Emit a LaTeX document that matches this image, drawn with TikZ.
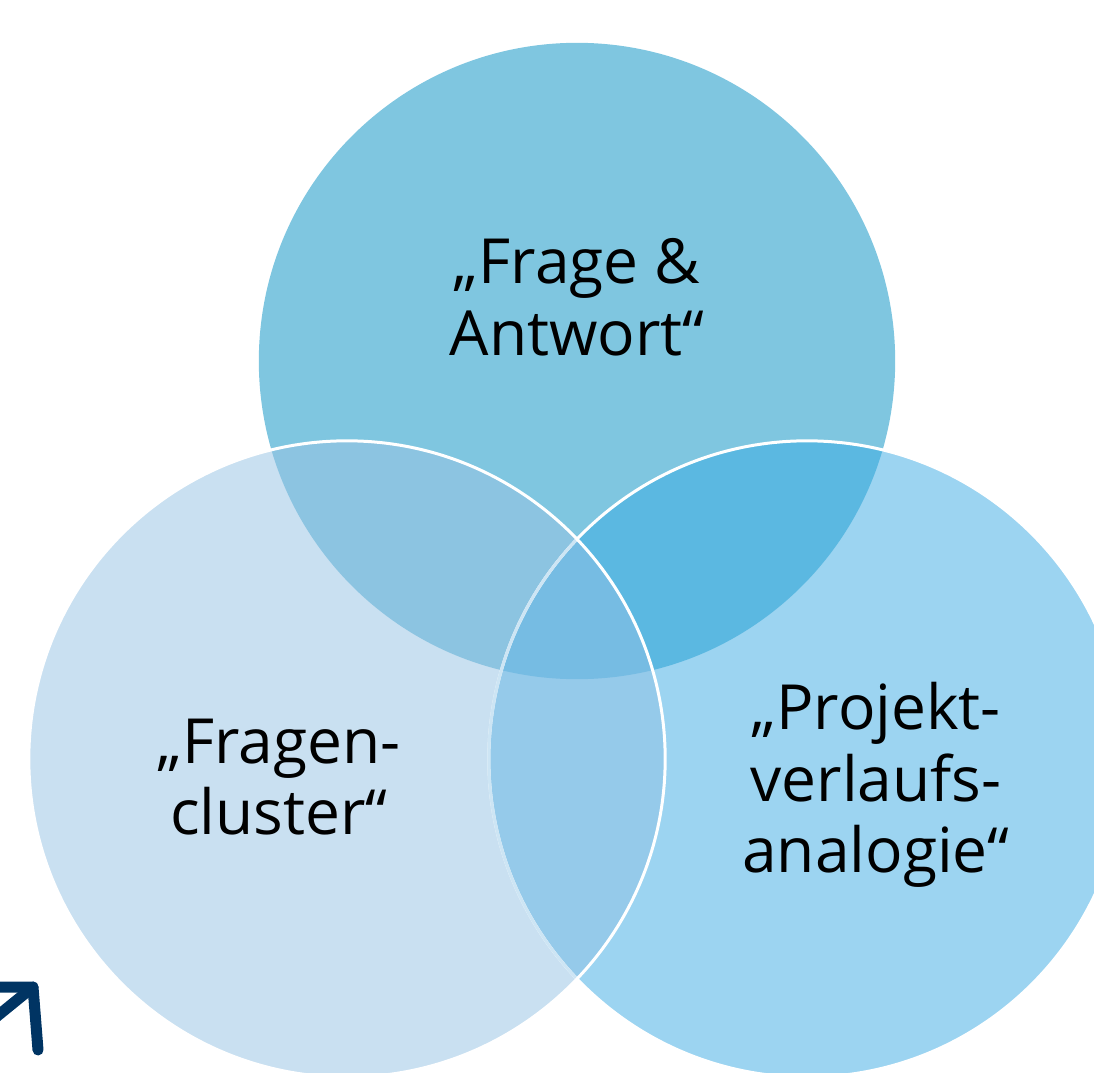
\documentclass[tikz,border=0pt]{standalone}
\usepackage{fontspec}
\setmainfont{Open Sans}
\usepackage{tikz}
\usetikzlibrary{positioning}

\definecolor{topblue}{HTML}{7FC6E0}
\definecolor{leftblue}{HTML}{C9E0F1}
\definecolor{rightblue}{HTML}{9CD4F1}
\definecolor{topleft}{HTML}{8CC4E1}
\definecolor{topright}{HTML}{5BB8E1}
\definecolor{leftright}{HTML}{95CAEA}
\definecolor{allthree}{HTML}{76BCE3}
\definecolor{fadeline}{HTML}{CDE5F4}
\definecolor{navy}{HTML}{003463}

\tikzset{
  lbl/.style={align=center, inner sep=0pt, text=black,
    font=\fontsize{17.7}{20.4}\selectfont},
  rim/.style={white, line width=0.03cm}
}

\begin{document}
\begin{tikzpicture}[x=0.01cm, y=-0.01cm]
   \useasboundingbox (0,0) rectangle (1094,1073);
   \def\rad{3.18cm}

   \coordinate (ctop)   at (577,361);
   \coordinate (cleft)  at (347,759);
   \coordinate (cright) at (807,759);

   \fill[topblue]   (ctop)   circle (\rad);
   \fill[rightblue] (cright) circle (\rad);
   \fill[leftblue]  (cleft)  circle (\rad);

   \begin{scope}
      \clip (ctop) circle (\rad);
      \fill[topleft]  (cleft)  circle (\rad);
      \fill[topright] (cright) circle (\rad);
   \end{scope}
   \begin{scope}
      \clip (cleft) circle (\rad);
      \fill[leftright] (cright) circle (\rad);
      \clip (cright) circle (\rad);
      \fill[allthree] (ctop) circle (\rad);
   \end{scope}

   \draw[rim] (cright) circle (\rad);
   \begin{scope}
      \clip (cleft) circle (\rad);
      \draw[rim, fadeline] (cright) circle (\rad);
   \end{scope}
   \draw[rim] (cleft) circle (\rad);

   \node (qa)      [lbl] at (577,297) {„Frage \&\\Antwort“};
   \node (cluster) [lbl] at (279,777) {„Fragen-\\cluster“};
   \node (verlauf) [lbl] at (876,785) {„Projekt-\\verlaufs-\\analogie“};

   \coordinate (tip) at (33,987);
   \draw[navy, line width=0.11cm, line cap=round, line join=round]
      (-10,987) -- (tip) -- (35,1012) -- (38,1050);
   \draw[navy, line width=0.11cm, line cap=round] (-10,1022) -- (tip);
\end{tikzpicture}
\end{document}
